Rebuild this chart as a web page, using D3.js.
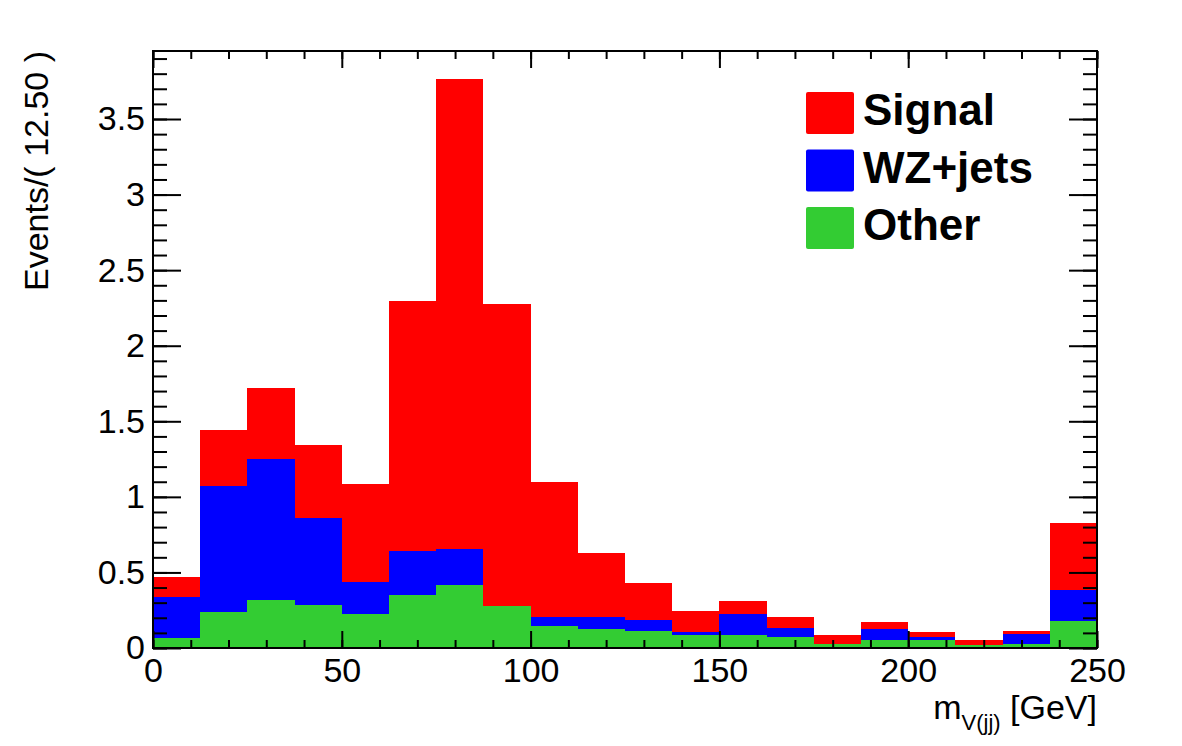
<!DOCTYPE html>
<html>
<head>
<meta charset="utf-8">
<script src="https://cdn.jsdelivr.net/npm/d3@7"></script>
<style>
  body { margin: 0; background: #fff; }
  svg { display: block; font-family: "Liberation Sans", Arial, Helvetica, sans-serif; }
</style>
</head>
<body>
<svg id="chart" width="1182" height="746"></svg>
<script>
// bin lower edges, 12.5 GeV wide
const binEdges = [0, 12.5, 25, 37.5, 50, 62.5, 75, 87.5, 100, 112.5, 125, 137.5, 150, 162.5, 175, 187.5, 200, 212.5, 225, 237.5];
const binWidth = 12.5;
// per-component contents (stacked: other, wz, signal)
const other  = [0.068, 0.236, 0.318, 0.285, 0.223, 0.351, 0.417, 0.278, 0.148, 0.124, 0.115, 0.086, 0.086, 0.071, 0.024, 0.053, 0.053, 0.020, 0.029, 0.181];
const wzjets = [0.272, 0.838, 0.933, 0.577, 0.216, 0.293, 0.236, 0.000, 0.055, 0.083, 0.073, 0.020, 0.137, 0.059, 0.000, 0.073, 0.020, 0.000, 0.064, 0.205];
const signal = [0.132, 0.369, 0.472, 0.479, 0.644, 1.652, 3.111, 1.997, 0.894, 0.424, 0.242, 0.141, 0.088, 0.073, 0.062, 0.046, 0.035, 0.035, 0.019, 0.439];
const xMajorTicks = [0, 50, 100, 150, 200, 250];
const yMajorTicks = [0, 0.5, 1, 1.5, 2, 2.5, 3, 3.5];
const legendNames = ["Signal", "WZ+jets", "Other"];

const colors = {signal: "#ff0000", wz: "#0000ff", other: "#33cc33"};

const svg = d3.select("#chart");
const margin = {left: 153, right: 85, top: 51, bottom: 98};
const W = 1182, H = 746;
const x0 = margin.left, x1 = W - margin.right, y0 = H - margin.bottom, y1 = margin.top;

const x = d3.scaleLinear().domain([0, 250]).range([x0, x1]);
const y = d3.scaleLinear().domain([0, 3.95]).range([y0, y1]);

const rows = binEdges.map((e, i) => ({lo: e, other: other[i], wz: wzjets[i], signal: signal[i]}));
const stack = d3.stack().keys(["other", "wz", "signal"]);
const layers = stack(rows);

const g = svg.append("g");
g.selectAll("g.layer")
    .data(layers)
  .join("g")
    .attr("class", "layer")
    .attr("fill", d => colors[d.key])
  .selectAll("rect")
    .data(d => d)
  .join("rect")
    .attr("shape-rendering", "crispEdges")
    .attr("x", d => x(d.data.lo))
    .attr("width", d => x(d.data.lo + binWidth) - x(d.data.lo))
    .attr("y", d => y(d[1]))
    .attr("height", d => Math.max(0, y(d[0]) - y(d[1])));

// axes, ROOT style: ticks inward on all four sides
const xMinor = d3.range(0, 251, 10);
const yMinor = d3.range(0, 3.95, 0.1);
const tickFont = 34;

function styleAxis(sel) {
  sel.select(".domain").remove();
  sel.selectAll(".tick line").attr("stroke", "#000").attr("stroke-width", 2);
  sel.selectAll("text").attr("font-size", tickFont).attr("fill", "#000").attr("font-family", null);
}

svg.append("g").attr("transform", `translate(0,${y0})`)
    .call(d3.axisBottom(x).tickValues(xMinor).tickSize(-8).tickFormat(""))
    .call(styleAxis);
svg.append("g").attr("transform", `translate(0,${y0})`)
    .call(d3.axisBottom(x).tickValues(xMajorTicks).tickSize(-17).tickPadding(10).tickFormat(d3.format("d")))
    .call(styleAxis);
svg.append("g").attr("transform", `translate(0,${y1})`)
    .call(d3.axisTop(x).tickValues(xMinor).tickSize(-8).tickFormat(""))
    .call(styleAxis);
svg.append("g").attr("transform", `translate(0,${y1})`)
    .call(d3.axisTop(x).tickValues(xMajorTicks).tickSize(-17).tickFormat(""))
    .call(styleAxis);

svg.append("g").attr("transform", `translate(${x0},0)`)
    .call(d3.axisLeft(y).tickValues(yMinor).tickSize(-14).tickFormat(""))
    .call(styleAxis);
svg.append("g").attr("transform", `translate(${x0},0)`)
    .call(d3.axisLeft(y).tickValues(yMajorTicks).tickSize(-28).tickPadding(8).tickFormat(d => d3.format("~g")(d)))
    .call(styleAxis);
svg.append("g").attr("transform", `translate(${x1},0)`)
    .call(d3.axisRight(y).tickValues(yMinor).tickSize(-14).tickFormat(""))
    .call(styleAxis);
svg.append("g").attr("transform", `translate(${x1},0)`)
    .call(d3.axisRight(y).tickValues(yMajorTicks).tickSize(-28).tickFormat(""))
    .call(styleAxis);

// frame
svg.append("rect")
    .attr("x", x0).attr("y", y1)
    .attr("width", x1 - x0).attr("height", y0 - y1)
    .attr("fill", "none").attr("stroke", "#000").attr("stroke-width", 2);

// axis titles
const xt = svg.append("text")
    .attr("x", x1).attr("y", 719)
    .attr("text-anchor", "end")
    .attr("font-size", 34);
xt.append("tspan").text("m");
xt.append("tspan").attr("font-size", 22).attr("dy", 11).text("V(jj)");
xt.append("tspan").attr("dy", -11).text(" [GeV]");

svg.append("text")
    .attr("transform", `translate(48,${y1}) rotate(-90)`)
    .attr("text-anchor", "end")
    .attr("font-size", 34)
    .text("Events/( 12.50 )");

// legend
const legendColors = [colors.signal, colors.wz, colors.other];
const leg = svg.append("g").attr("transform", "translate(806,92)");
legendNames.forEach((name, i) => {
  const row = leg.append("g").attr("transform", `translate(0,${i * 57.5})`);
  row.append("rect")
      .attr("width", 48).attr("height", 42).attr("rx", 2)
      .attr("fill", legendColors[i]);
  row.append("text")
      .attr("x", 57).attr("y", 33)
      .attr("font-size", 44).attr("font-weight", "bold")
      .text(name);
});
</script>
</body>
</html>
